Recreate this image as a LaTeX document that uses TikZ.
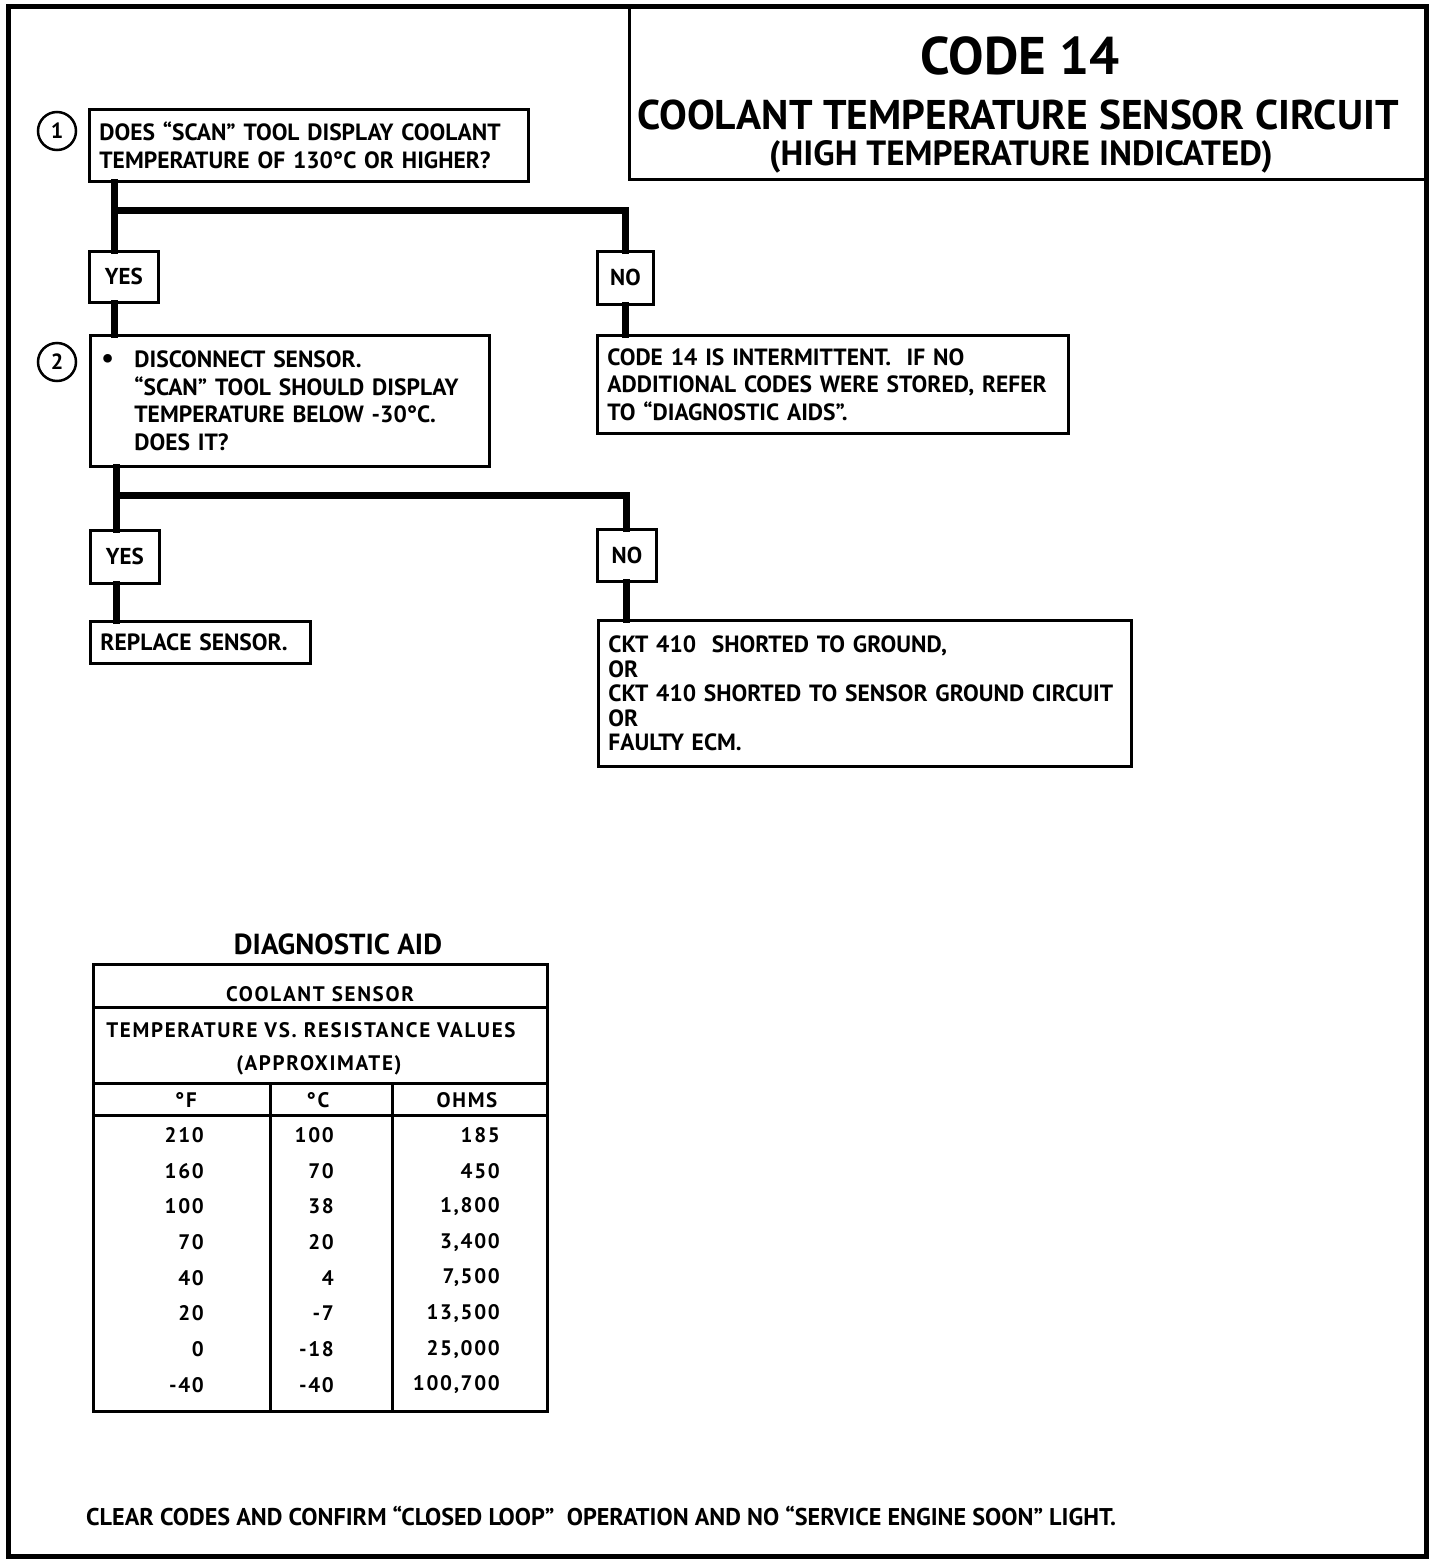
\documentclass[tikz,border=0pt]{standalone}
\usepackage{fontspec}
\setmainfont{PT Sans}
\newfontfamily\nar{PT Sans}
\newfontfamily\tbl[LetterSpace=8]{PT Sans}
\begin{document}
\begin{tikzpicture}[x=1pt,y=-1pt,
  frame/.style={line width=5pt},
  box/.style={draw, line width=2.8pt, anchor=north west, inner xsep=10pt, inner ysep=0pt, align=left,
              font=\nar\bfseries\fontsize{23.5}{27.5}\selectfont},
  lbl/.style={draw, line width=2.8pt, anchor=north west, inner sep=0pt, align=center,
              font=\nar\bfseries\fontsize{23}{26}\selectfont},
  conn/.style={line width=7pt, line cap=rect, line join=miter},
  num/.style={circle, draw, line width=2.5pt, minimum size=38pt, inner sep=0pt,
              font=\nar\bfseries\fontsize{22}{24}\selectfont},
  ttl/.style={font=\nar\bfseries\fontsize{#1}{#1}\selectfont, inner sep=0pt},
  tt/.style={font=\tbl\bfseries\fontsize{21}{24}\selectfont, inner sep=0pt},
]
\useasboundingbox (0,0) rectangle (1456,1566);
\draw[frame] (8,6) rectangle (1426,1556);

% title box
\node[draw, line width=3pt, anchor=north west, minimum width=798pt, minimum height=172pt, inner sep=0pt] (title) at (628,6) {};
\node[ttl=53] (t1) at (1020,56) {CODE 14};
\node[ttl=41.5] (t2) at (1018,115) {COOLANT TEMPERATURE SENSOR CIRCUIT};
\node[ttl=35] (t3) at (1021,157) {(HIGH TEMPERATURE INDICATED)};

% flowchart
\node[num] (c1) at (57,131) {1};
\node[box, text width=419pt, minimum height=72pt] (box1) at (88,108)
  {DOES “SCAN” TOOL DISPLAY COOLANT\\TEMPERATURE OF 130°C OR HIGHER?};
\node[lbl, minimum width=69pt, minimum height=51pt] (yes1) at (88,250) {YES};
\node[lbl, minimum width=56pt, minimum height=53pt] (no1) at (596,250) {NO};
\node[num] (c2) at (57,362) {2};
\node[box, text width=377pt, minimum height=131pt, inner xsep=11pt] (box2) at (89,334)
  {\makebox[33pt][l]{\hspace{0pt}\fontsize{28}{27.5}\selectfont•}DISCONNECT SENSOR.\\
   \hspace*{33pt}“SCAN” TOOL SHOULD DISPLAY\\
   \hspace*{33pt}TEMPERATURE BELOW -30°C.\\
   \hspace*{33pt}DOES IT?};
\node[box, text width=451pt, minimum height=98pt] (box3) at (596,334)
  {CODE 14 IS INTERMITTENT.\ \ IF NO\\ADDITIONAL CODES WERE STORED, REFER\\TO “DIAGNOSTIC AIDS”.};
\node[lbl, minimum width=69pt, minimum height=53pt] (yes2) at (89,529) {YES};
\node[lbl, minimum width=59pt, minimum height=52pt] (no2) at (596,528) {NO};
\node[box, text width=200pt, minimum height=42pt] (rep) at (89,620) {REPLACE SENSOR.};
\node[box, text width=513pt, minimum height=146pt, font=\nar\bfseries\fontsize{23.5}{24.5}\selectfont] (ckt) at (597,619)
  {CKT 410\ \ SHORTED TO GROUND,\\OR\\CKT 410 SHORTED TO SENSOR GROUND CIRCUIT\\OR\\FAULTY ECM.};

\coordinate (j1) at (114,210);
\coordinate (j2) at (116,495);
\draw[conn] (box1.south -| j1) -- (j1) -- (j1 -| no1) -- (no1.north);
\draw[conn] (j1) -- (yes1.north -| j1);
\draw[conn] (yes1.south -| j1) -- (box2.north -| j1);
\draw[conn] (no1.south) -- (box3.north -| no1);
\draw[conn] (box2.south -| j2) -- (j2) -- (j2 -| no2) -- (no2.north);
\draw[conn] (j2) -- (yes2.north -| j2);
\draw[conn] (yes2.south -| j2) -- (rep.north -| j2);
\draw[conn] (no2.south) -- (ckt.north -| no2);

% diagnostic aid table
\node[font=\nar\bfseries\fontsize{29}{29}\selectfont, inner sep=0pt] (dtitle) at (338,944) {DIAGNOSTIC AID};
\draw[line width=3pt] (93,964) rectangle (547,1411);
\draw[line width=3pt] (93,1007) -- (547,1007);
\draw[line width=3pt] (93,1083) -- (547,1083);
\draw[line width=3pt] (93,1115) -- (547,1115);
\draw[line width=3pt] (270,1083) -- (270,1411);
\draw[line width=3pt] (392,1083) -- (392,1411);
\node[tt] (h1) at (320,994) {COOLANT SENSOR};
\node[tt] (h2) at (311,1030) {TEMPERATURE VS. RESISTANCE VALUES};
\node[tt] (h3) at (319,1065) {(APPROXIMATE)};
\node[tt] (hf) at (186,1100) {°F};
\node[tt] (hc) at (318,1100) {°C};
\node[tt] (ho) at (467,1100) {OHMS};
\foreach \f/\c/\o [count=\i] in {210/100/185, 160/70/450, 100/38/{1,800}, 70/20/{3,400},
    40/4/{7,500}, 20/-7/{13,500}, 0/-18/{25,000}, -40/-40/{100,700}} {
  \pgfmathsetmacro{\yy}{1135+(\i-1)*35.7}
  \node[tt, anchor=east] (f\i) at (204,\yy) {\f};
  \node[tt, anchor=east] (c\i) at (334,\yy) {\c};
  \node[tt, anchor=east] (o\i) at (500,\yy) {\o};
}

% footer
\node[font=\nar\bfseries\fontsize{24.2}{26}\selectfont, inner sep=0pt, anchor=west] (foot) at (86,1516)
  {CLEAR CODES AND CONFIRM “CLOSED LOOP”\ \ OPERATION AND NO “SERVICE ENGINE SOON” LIGHT.};
\end{tikzpicture}
\end{document}
